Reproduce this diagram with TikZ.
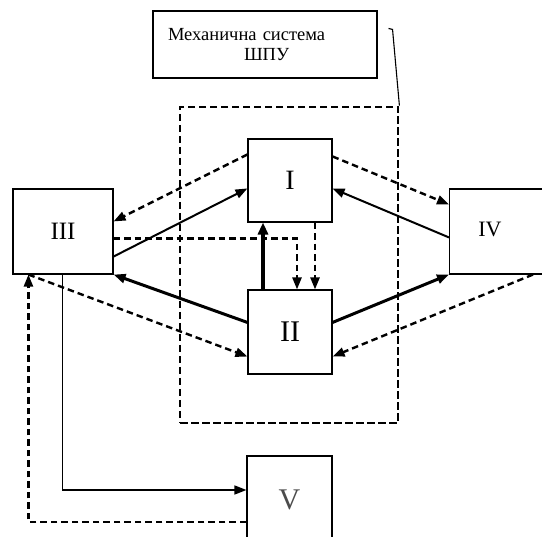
\documentclass[tikz,border=0pt]{standalone}
\usepackage{fontspec}
\setmainfont{Liberation Serif}
\usepackage{tikz}
\usetikzlibrary{positioning, arrows.meta}
\tikzset{
    unitbox/.style={draw=black, line width=1.1pt, fill=white, inner sep=0pt},
    framebox/.style={draw, line width=2.8pt, dash pattern=on 7.5pt off 3.5pt, minimum width=218pt, minimum height=316pt, inner sep=0pt},
    solidarrow/.style={-{Triangle[length=12pt,width=9pt]}, line width=2pt},
    boldarrow/.style={-{Triangle[length=12pt,width=9pt]}, line width=3pt},
    heavyarrow/.style={-{Triangle[length=12pt,width=10pt]}, line width=4.5pt},
    dashedarrow/.style={-{Triangle[length=12pt,width=9pt]}, line width=2.4pt, dash pattern=on 6.5pt off 4pt},
    note/.style={font=\fontsize{18.5}{21}\selectfont, align=left}
}
\begin{document}
\begin{tikzpicture}[x=1pt,y=-1pt]
    \useasboundingbox (0,0) rectangle (542,537);
    % system frame and its caption
    \node[framebox] (frame) at (289,265) {};
    \node[unitbox, note, text width=194pt, inner xsep=15pt, minimum height=67pt] (lbl) at (265,44.5)
        {Механична система\\[-1pt]\hspace*{76pt}ШПУ\\[4pt]};
    \draw[line width=1.1pt] ([xshift=11pt,yshift=-18pt]lbl.north east) -- ++(4,1) -- (frame.north east);
    % units
    \node[unitbox, minimum width=84pt, minimum height=83pt, font=\fontsize{28}{28}\selectfont] (I) at (290,180.5) {I};
    \node[unitbox, minimum width=84pt, minimum height=84pt, font=\fontsize{30}{30}\selectfont] (II) at (290,332) {II};
    \node[unitbox, minimum width=100pt, minimum height=85pt, font=\fontsize{25}{25}\selectfont] (III) at (63,231.5) {III};
    \node[unitbox, minimum width=170pt, minimum height=85pt, anchor=west] (IV) at (449,231.5) {};
    \node[font=\fontsize{22}{22}\selectfont, inner sep=0pt] (IVtext) at (490,229) {IV};
    \node[unitbox, minimum width=85pt, minimum height=88pt, font=\fontsize{30}{30}\selectfont, text=black!70] (V) at (289.5,500) {V};
    % links III <-> I
    \draw[dashedarrow] ([yshift=-16pt]I.north west) -- ([yshift=-33pt]III.north east);
    \draw[solidarrow] ([yshift=18pt]III.south east) -- ([yshift=-50pt]I.north west);
    \draw[dashedarrow] ([yshift=-50pt]III.north east) -| ([xshift=7pt]II.north);
    % links I <-> II
    \draw[heavyarrow] ([xshift=-27pt]II.north) -- ([xshift=-27pt]I.south);
    \draw[dashedarrow] ([xshift=25pt]I.south) -- ([xshift=25pt]II.north);
    % links III <-> II
    \draw[boldarrow] ([yshift=-33pt]II.north west) -- (III.south east);
    \draw[dashedarrow] ([xshift=16pt]III.south west) -- ([yshift=18pt]II.south west);
    % links I, II <-> IV
    \draw[dashedarrow] ([yshift=-18pt]I.north east) -- ([yshift=-16pt]IV.north west);
    \draw[solidarrow] ([yshift=-49pt]IV.north west) -- ([yshift=-50pt]I.north east);
    \draw[boldarrow] ([yshift=-33pt]II.north east) -- (IV.south west);
    \draw[dashedarrow] ([xshift=84pt]IV.south west) -- ([yshift=18pt]II.south east);
    % links III <-> V
    \draw[solidarrow, line width=1.5pt] ([xshift=50pt]III.south west) |- ([yshift=10pt]V.west);
    \draw[dashedarrow] ([yshift=-22pt]V.west) -| ([xshift=16pt]III.south west);
\end{tikzpicture}
\end{document}
